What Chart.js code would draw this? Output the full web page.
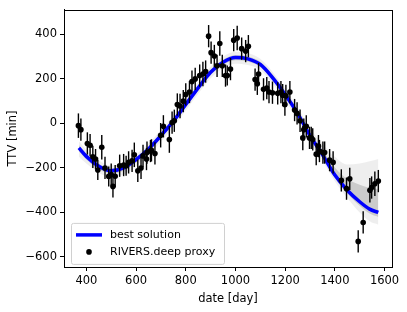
<!DOCTYPE html>
<html>
<head>
<meta charset="utf-8">
<script src="https://cdn.jsdelivr.net/npm/chart.js@4.4.1/dist/chart.umd.min.js"></script>
<style>
  html, body { margin: 0; padding: 0; background: #fff; }
  #wrap { width: 407px; height: 312px; }
</style>
</head>
<body>
<div id="wrap"><canvas id="ttvChart" width="407" height="312"></canvas></div>
<script>
// Observed transit times (RIVERS.deep proxy)
const dates = [368, 378, 404, 415, 426, 437, 446, 462, 475, 490, 500, 507, 516, 534, 550, 560, 570, 584, 593, 607,
  620, 628, 642, 644, 658, 662, 676, 699, 710, 734, 745, 754, 766, 777, 790, 800, 815, 825, 838, 856,
  869, 880, 892, 902, 915, 926, 937, 947, 960, 967, 980, 993, 1007, 1025, 1041, 1052, 1079, 1088, 1093, 1113,
  1126, 1135, 1149, 1170, 1183, 1190, 1199, 1203, 1219, 1238, 1248, 1260, 1271, 1275, 1285, 1298, 1305, 1311, 1325, 1334,
  1338, 1352, 1359, 1379, 1393, 1426, 1447, 1460, 1494, 1514, 1541, 1548, 1561, 1575];
const ttv = [-10, -28, -90, -98, -150, -160, -209, -107, -200, -238, -230, -283, -237, -190, -187, -190, -175, -168, -141, -213,
  -200, -146, -160, -131, -124, -121, -135, -53, -13, -72, 4, 12, 85, 78, 100, 130, 141, 188, 200, 215,
  222, 233, 392, 318, 303, 259, 359, 259, 215, 215, 244, 374, 384, 336, 325, 347, 197, 178, 222, 153,
  159, 141, 138, 135, 141, 127, 85, 124, 141, 60, 45, 12, -65, -28, -13, -65, -65, -72, -138, -102,
  -124, -131, -131, -165, -175, -256, -293, -249, -530, -445, -300, -288, -271, -259];
const ttvErr = [55, 50, 50, 50, 50, 45, 45, 55, 50, 45, 50, 50, 50, 50, 50, 45, 50, 50, 55, 50,
  50, 50, 50, 50, 50, 50, 50, 55, 50, 60, 50, 50, 50, 55, 50, 50, 50, 50, 50, 50,
  55, 50, 50, 50, 50, 50, 55, 50, 50, 45, 50, 50, 55, 50, 50, 50, 50, 50, 50, 50,
  50, 50, 50, 50, 50, 50, 50, 50, 50, 50, 50, 50, 55, 50, 50, 50, 50, 50, 50, 50,
  50, 50, 50, 50, 50, 50, 50, 50, 50, 50, 55, 50, 55, 50];

// Model curves
const modelDates = [370, 400, 450, 500, 550, 600, 650, 700, 750, 800, 850, 900, 950, 1000, 1050, 1100, 1150, 1200, 1250, 1300, 1350, 1400, 1450, 1500, 1540, 1575];
const bestSolution = [-110, -148, -192, -213, -200, -163, -115, -55, 10, 85, 160, 230, 275, 296, 290, 265, 205, 130, 45, -55, -140, -232, -300, -352, -385, -400];
const spreadHigh = [-80, -120, -166, -188, -175, -138, -90, -30, 35, 110, 185, 255, 300, 322, 316, 290, 230, 155, 72, -20, -90, -150, -185, -180, -170, -160];
const spreadLow = [-150, -180, -222, -242, -230, -192, -142, -82, -17, 58, 133, 203, 248, 268, 262, 240, 178, 103, 18, -82, -168, -260, -335, -400, -440, -455];
const coreHigh = [-97, -136, -181, -202, -189, -152, -104, -44, 21, 96, 171, 241, 286, 307, 301, 277, 217, 142, 58, -40, -118, -198, -250, -275, -290, -295];
const coreLow = [-125, -162, -206, -226, -213, -176, -128, -67, -2, 73, 148, 218, 263, 284, 278, 253, 193, 118, 33, -68, -152, -245, -315, -370, -405, -420];

// Axis ticks
const xTicks = [400, 600, 800, 1000, 1200, 1400, 1600];
const yTicks = [-600, -400, -200, 0, 200, 400];

const FONT = 'DejaVu Sans';

function toPoints(xs, ys) {
  return xs.map((x, i) => ({ x: x, y: ys[i] }));
}

// Error bars, drawn right after the best solution line
const errorBars = {
  id: 'errorBars',
  afterDatasetDraw(chart, args) {
    if (args.index !== 4) return;
    const ctx = chart.ctx;
    const xs = chart.scales.x;
    const ys = chart.scales.y;
    ctx.save();
    ctx.strokeStyle = '#000';
    ctx.lineWidth = 1.4;
    dates.forEach((d, i) => {
      const px = xs.getPixelForValue(d);
      ctx.beginPath();
      ctx.moveTo(px, ys.getPixelForValue(ttv[i] - ttvErr[i]));
      ctx.lineTo(px, ys.getPixelForValue(ttv[i] + ttvErr[i]));
      ctx.stroke();
    });
    ctx.restore();
  }
};

// Frame (top / right spines) and legend box
const frameAndLegend = {
  id: 'frameAndLegend',
  afterDraw(chart) {
    const ctx = chart.ctx;
    const a = chart.chartArea;
    ctx.save();
    ctx.strokeStyle = '#000';
    ctx.lineWidth = 1;
    ctx.strokeRect(Math.round(a.left) + 0.5, Math.round(a.top) + 0.5, Math.round(a.right - a.left), Math.round(a.bottom - a.top));

    // legend
    const lx = a.left + 7, ly = a.top + 213, lw = 153, lh = 41;
    ctx.fillStyle = 'rgba(255,255,255,0.8)';
    ctx.strokeStyle = '#d0d0d0';
    ctx.beginPath();
    ctx.roundRect(lx + 0.5, ly + 0.5, lw, lh, 2);
    ctx.fill();
    ctx.stroke();

    ctx.strokeStyle = '#0000ff';
    ctx.lineWidth = 3.5;
    ctx.beginPath();
    ctx.moveTo(lx + 5, ly + 12);
    ctx.lineTo(lx + 31, ly + 12);
    ctx.stroke();

    ctx.fillStyle = '#000';
    ctx.beginPath();
    ctx.arc(lx + 18, ly + 29, 2.8, 0, Math.PI * 2);
    ctx.fill();

    ctx.font = '11px "' + FONT + '"';
    ctx.textBaseline = 'middle';
    ctx.fillText('best solution', lx + 39, ly + 12);
    ctx.fillText('RIVERS.deep proxy', lx + 39, ly + 29);
    ctx.restore();
  }
};

const curveStyle = { showLine: true, pointRadius: 0, borderWidth: 0, borderColor: 'rgba(0,0,0,0)', cubicInterpolationMode: 'monotone' };

const data = {
  datasets: [
    Object.assign({ label: 'spread high', data: toPoints(modelDates, spreadHigh), backgroundColor: 'rgba(120,120,120,0.13)', fill: '+1', order: 5 }, curveStyle),
    Object.assign({ label: 'spread low', data: toPoints(modelDates, spreadLow), fill: false, order: 5 }, curveStyle),
    Object.assign({ label: 'core high', data: toPoints(modelDates, coreHigh), backgroundColor: 'rgba(90,90,90,0.24)', fill: '+1', order: 4 }, curveStyle),
    Object.assign({ label: 'core low', data: toPoints(modelDates, coreLow), fill: false, order: 4 }, curveStyle),
    {
      label: 'best solution',
      data: toPoints(modelDates, bestSolution),
      showLine: true, pointRadius: 0,
      borderColor: '#0000ff', borderWidth: 3.5,
      fill: false, cubicInterpolationMode: 'monotone', order: 2
    },
    {
      label: 'RIVERS.deep proxy',
      data: toPoints(dates, ttv),
      showLine: false, pointRadius: 2.8,
      pointBackgroundColor: '#000', pointBorderWidth: 0,
      order: 1
    }
  ]
};

const tickFont = { family: FONT, size: 11.5 };

const config = {
  type: 'scatter',
  data: data,
  plugins: [errorBars, frameAndLegend],
  options: {
    responsive: false,
    animation: false,
    layout: { padding: { top: 7, right: 15, left: 0, bottom: 0 } },
    plugins: { legend: { display: false }, tooltip: { enabled: false } },
    scales: {
      x: {
        type: 'linear', min: 310, max: 1630,
        afterBuildTicks: s => { s.ticks = xTicks.map(v => ({ value: v })); },
        afterFit: s => { s.height = 45; },
        grid: { drawOnChartArea: false, color: '#000', tickLength: 4, tickWidth: 1 },
        border: { display: true, color: '#000', width: 1 },
        ticks: { color: '#000', font: tickFont, padding: 3, maxRotation: 0, callback: v => '' + v },
        title: { display: true, text: 'date [day]', color: '#000', font: tickFont, padding: { top: 0, bottom: 6 } }
      },
      y: {
        type: 'linear', min: -645, max: 510,
        afterBuildTicks: s => { s.ticks = yTicks.map(v => ({ value: v })); },
        afterFit: s => { s.width = 64; },
        grid: { drawOnChartArea: false, color: '#000', tickLength: 4, tickWidth: 1 },
        border: { display: true, color: '#000', width: 1 },
        ticks: { color: '#000', font: tickFont, padding: 3,
          callback: v => (v < 0 ? '\u2212' + Math.abs(v) : '' + v) },
        title: { display: true, text: 'TTV [min]', color: '#000', font: tickFont, padding: { top: 6, bottom: 0 } }
      }
    }
  }
};

new Chart(document.getElementById('ttvChart').getContext('2d'), config);
</script>
</body>
</html>
